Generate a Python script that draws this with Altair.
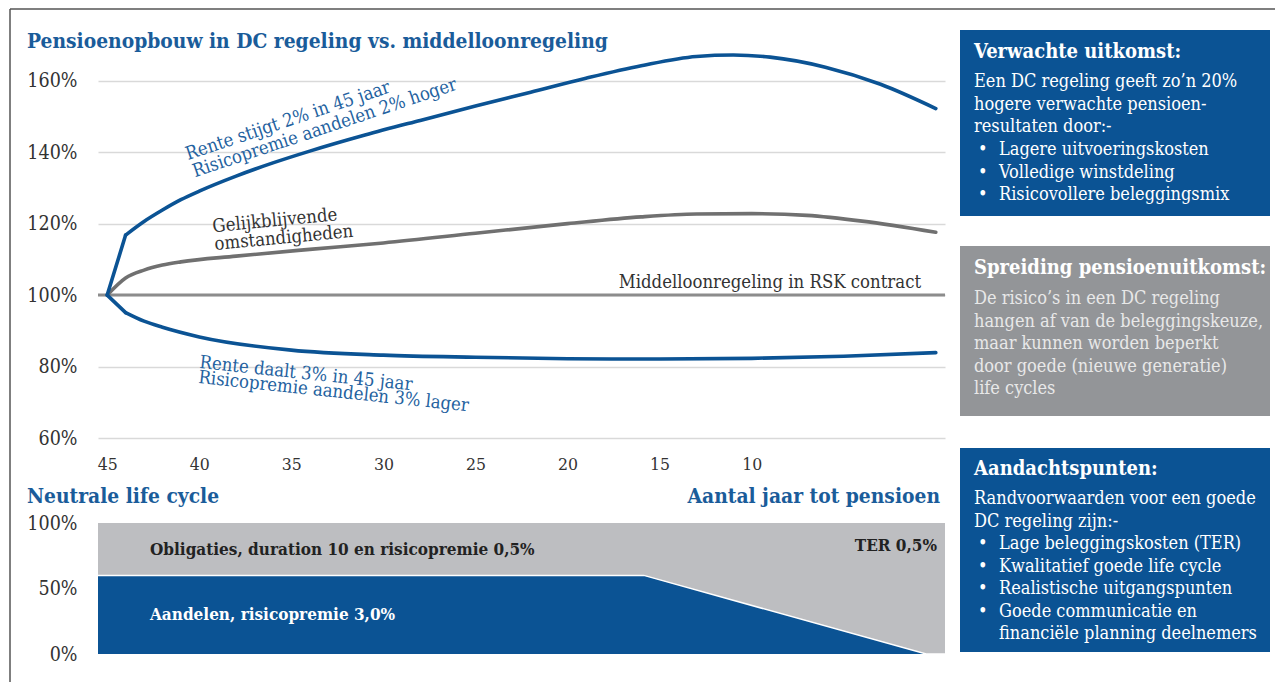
import altair as alt
import pandas as pd

FONT = "DejaVu Serif Condensed"
BLUE = "#0b5394"
TITLE_BLUE = "#1a5c9a"
TEXT_BLUE = "#2462a0"
GRAY_LINE = "#707070"
GRAY_FLAT = "#8c8c8c"
GRAY_AREA = "#bdbec1"
GRAY_BOX = "#939598"
DARK = "#333333"

# ---------------- data ----------------
up_years = [45, 44, 43, 42, 41, 40, 38, 36, 34, 31, 28, 25, 22, 19, 16, 13, 11, 9, 6, 3, 0]
up_vals = [100, 116.8, 120.6, 123.8, 126.7, 129.1, 133.3, 137.0, 140.3, 144.8, 148.9, 152.9,
           156.8, 160.7, 164.2, 166.8, 167.2, 166.6, 163.8, 159.0, 152.2]
same_years = [45, 44, 43, 42, 41, 38, 34, 30, 25, 20, 16, 13, 10, 7, 4, 0]
same_vals = [100, 104.8, 107.0, 108.4, 109.3, 110.9, 112.8, 114.6, 117.3, 120.0, 121.9,
             122.7, 122.8, 122.3, 120.7, 117.6]
down_years = [45, 44, 43, 42, 40, 35, 30, 25, 20, 15, 10, 5, 0]
down_vals = [100, 95.1, 92.7, 91.0, 88.3, 84.6, 83.2, 82.6, 82.2, 82.1, 82.3, 82.9, 83.9]
flat_value = [100]

x_ticks = [45, 40, 35, 30, 25, 20, 15, 10]
y_ticks = [60, 80, 100, 120, 140, 160]

lc_years = [45, 16, 1, 0]
lc_equity = [60, 60, 0, 0]
lc_total = [100, 100, 100, 100]
lc_ticks = [0, 50, 100]

title_text = "Pensioenopbouw in DC regeling vs. middelloonregeling"
up_label = ["Rente stijgt 2% in 45 jaar", "Risicopremie aandelen 2% hoger"]
same_label = ["Gelijkblijvende", "omstandigheden"]
down_label = ["Rente daalt 3% in 45 jaar", "Risicopremie aandelen 3% lager"]
flat_label = ["Middelloonregeling in RSK contract"]

box1_title = "Verwachte uitkomst:"
box1_body = ["Een DC regeling geeft zo\u2019n 20%", "hogere verwachte pensioen-", "resultaten door:-"]
box1_bullets = ["Lagere uitvoeringskosten", "Volledige winstdeling", "Risicovollere beleggingsmix"]
box2_title = "Spreiding pensioenuitkomst:"
box2_body = ["De risico\u2019s in een DC regeling", "hangen af van de beleggingskeuze,",
             "maar kunnen worden beperkt", "door goede (nieuwe generatie)", "life cycles"]
box3_title = "Aandachtspunten:"
box3_body = ["Randvoorwaarden voor een goede", "DC regeling zijn:-"]
box3_bullets = ["Lage beleggingskosten (TER)", "Kwalitatief goede life cycle",
                "Realistische uitgangspunten", "Goede communicatie en",
                "financi\u00eble planning deelnemers"]

# ---------------- tables ----------------
series = [("up", up_years, up_vals), ("same", same_years, same_vals), ("down", down_years, down_vals)]
curve_rows = []
start_rows = []
for name, yrs, vals in series:
    # blue lines: straight first step then smooth curve; grey line smooth throughout
    first = 1 if name in ("up", "down") else 0
    curve_rows.append(pd.DataFrame({"year": yrs[first:], "value": vals[first:], "series": name}))
    if first:
        start_rows.append(pd.DataFrame({"year": yrs[:2], "value": vals[:2], "series": name}))
curve_df = pd.concat(curve_rows)
start_df = pd.concat(start_rows)
flat_df = pd.DataFrame({"value": flat_value})
lc_df = pd.DataFrame({"year": lc_years, "equity": lc_equity, "total": lc_total})
dummy = pd.DataFrame({"k": [0]})

xs = alt.Scale(domain=[45.5, -0.5], nice=False, zero=False)
ys = alt.Scale(domain=[60, 170], nice=False, zero=False)
x_axis = alt.Axis(values=x_ticks, grid=False, domain=False, ticks=False, labelPadding=17,
                  labelFontSize=17.5, labelFont=FONT, labelColor=DARK, title=None)
y_axis = alt.Axis(values=y_ticks, grid=True, gridColor="#d9d9d9", gridWidth=1.6, domain=False,
                  ticks=False, labelPadding=21, labelFontSize=19.5, labelFont=FONT, labelColor=DARK,
                  labelExpr="datum.value + '%'", title=None)
color_scale = alt.Scale(domain=["up", "same", "down"], range=[BLUE, GRAY_LINE, BLUE])

flat = alt.Chart(flat_df).mark_rule(color=GRAY_FLAT, strokeWidth=3).encode(
    y=alt.Y("value:Q", scale=ys, axis=y_axis)
)


def line_layer(df, interp):
    return alt.Chart(df).mark_line(strokeWidth=3.6, interpolate=interp, strokeCap="round",
                                   strokeJoin="round").encode(
        x=alt.X("year:Q", scale=xs, axis=x_axis),
        y=alt.Y("value:Q", scale=ys, axis=y_axis),
        color=alt.Color("series:N", scale=color_scale, legend=None),
        detail="series:N",
    )


curves = line_layer(curve_df, "monotone")
starts = line_layer(start_df, "linear")


def ann(years, values, texts, angle, color, align="left", size=18.4):
    df = pd.DataFrame({"year": years, "value": values, "text": texts})
    return alt.Chart(df).mark_text(angle=angle, align=align, baseline="alphabetic", font=FONT,
                                   fontSize=size, color=color).encode(
        x=alt.X("year:Q", scale=xs, axis=x_axis),
        y=alt.Y("value:Q", scale=ys, axis=y_axis),
        text="text:N",
    )


ann_up = ann([40.61, 40.23], [137.8, 133.0], up_label, 341.5, TEXT_BLUE)
ann_same = ann([39.25, 39.14], [117.6, 112.6], same_label, 354.5, DARK)
ann_down = ann([40.01, 40.07], [79.6, 75.4], down_label, 6, TEXT_BLUE)
ann_flat = ann([0.8], [101.96], flat_label, 0, DARK, align="right")


def vtext(x, y, text, size=18, color="white", bold=False, align="left", lh=22.6):
    return alt.Chart(dummy).mark_text(align=align, baseline="middle", font=FONT, fontSize=size,
                                      color=color, fontWeight="bold" if bold else "normal",
                                      lineHeight=lh).encode(
        x=alt.value(x), y=alt.value(y), text=alt.value(text))


def vrect(x0, x1, y0, y1, color):
    return alt.Chart(dummy).mark_rect(color=color).encode(
        x=alt.value(x0), x2=alt.value(x1), y=alt.value(y0), y2=alt.value(y1))


def vrule(x0, x1, y0, y1):
    return alt.Chart(dummy).mark_rule(color="#555555", strokeWidth=1.5).encode(
        x=alt.value(x0), x2=alt.value(x1), y=alt.value(y0), y2=alt.value(y1))


deco = [
    vrule(-88, -88, -36, 637),
    vrule(-88, 1177, -36, -36),
    vtext(-71, -3, title_text, size=20.8, color=TITLE_BLUE, bold=True),
    vtext(-71, 452, "Neutrale life cycle", size=20.8, color=TITLE_BLUE, bold=True),
    vtext(842, 452, "Aantal jaar tot pensioen", size=20.8, color=TITLE_BLUE, bold=True, align="right"),
    vrect(862, 1172, -15, 171, BLUE),
    vrect(862, 1172, 201, 371, GRAY_BOX),
    vrect(862, 1172, 403, 607, BLUE),
    vtext(876, 7, box1_title, size=20, bold=True),
    vtext(876, 37, box1_body),
    vtext(880, 105, ["\u2022"] * 3),
    vtext(901, 105, box1_bullets),
    vtext(876, 223, box2_title, size=20, bold=True),
    vtext(876, 254, box2_body, color="#e8e8e8"),
    vtext(876, 424, box3_title, size=20, bold=True),
    vtext(876, 454, box3_body),
    vtext(880, 499, ["\u2022"] * 4),
    vtext(901, 499, box3_bullets),
    vtext(52, 505, "Obligaties,  duration 10 en risicopremie 0,5%", size=17, color="#222222", bold=True),
    vtext(52, 570, "Aandelen,  risicopremie 3,0%", size=17, bold=True),
    vtext(839, 501, "TER 0,5%", size=17, color="#222222", bold=True, align="right"),
]

top = alt.layer(flat, curves, starts, ann_up, ann_same, ann_down, ann_flat)

bxs = alt.Scale(domain=[45, 0], nice=False, zero=False)
bys = alt.Scale(domain=[0, 100], range=[609, 478], nice=False, zero=False)
by_axis = alt.Axis(orient="left", values=lc_ticks, grid=False, domain=False, ticks=False,
                   labelPadding=21, labelFontSize=19.5, labelFont=FONT, labelColor=DARK,
                   labelExpr="datum.value + '%'", title=None)

area_total = alt.Chart(lc_df).mark_area(color=GRAY_AREA).encode(
    x=alt.X("year:Q", scale=bxs, axis=None),
    y=alt.Y("total:Q", scale=bys, axis=by_axis),
)
area_eq = alt.Chart(lc_df).mark_area(color=BLUE).encode(
    x=alt.X("year:Q", scale=bxs, axis=None),
    y=alt.Y("equity:Q", scale=bys, axis=by_axis),
)
eq_edge = alt.Chart(lc_df).mark_line(color="white", strokeWidth=1.5).encode(
    x=alt.X("year:Q", scale=bxs, axis=None),
    y=alt.Y("equity:Q", scale=bys, axis=by_axis),
)
bottom = alt.layer(area_total, area_eq, eq_edge)

chart = alt.layer(top, bottom, *deco).resolve_scale(x="independent", y="independent").properties(
    width=847, height=393,
    padding={"left": 98, "top": 45, "right": 330, "bottom": 244},
    autosize=alt.AutoSizeParams(type="none"),
    background="white",
).configure_view(stroke=None)

chart.save("out.html", embed_options={"renderer": "svg", "actions": False})
